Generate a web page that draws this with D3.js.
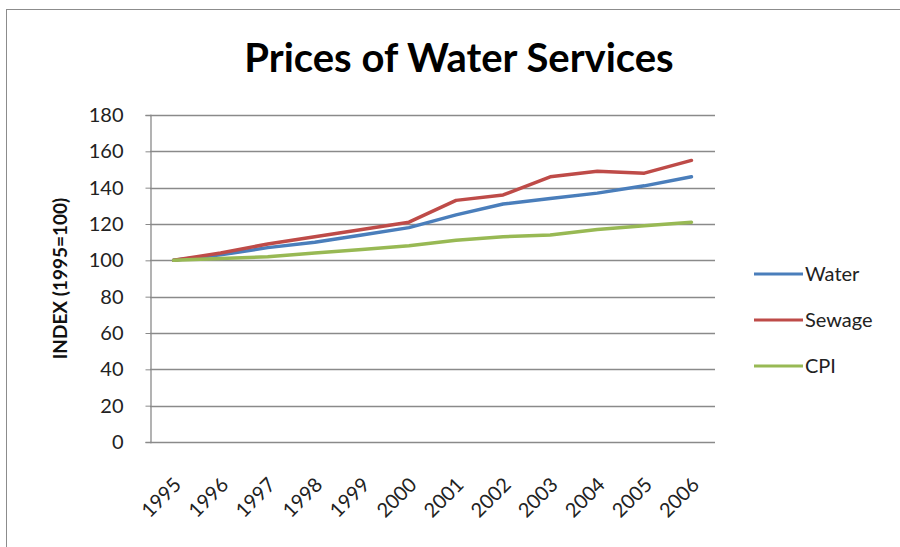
<!DOCTYPE html>
<html>
<head>
<meta charset="utf-8">
<script src="https://cdn.jsdelivr.net/npm/d3@7"></script>
<style>
  html, body { margin: 0; padding: 0; background: #fff; }
  svg { display: block; font-family: Lato, "Open Sans", sans-serif; }
</style>
</head>
<body>
<svg id="chart" width="900" height="547"></svg>
<script>
// Price indices (1995 = 100)
const years = ["1995","1996","1997","1998","1999","2000","2001","2002","2003","2004","2005","2006"];
const water  = [100, 103, 107, 110, 114, 118, 125, 131, 134, 137, 141, 146];
const sewage = [100, 104, 109, 113, 117, 121, 133, 136, 146, 149, 148, 155];
const cpi    = [100, 101, 102, 104, 106, 108, 111, 113, 114, 117, 119, 121];
const yTicks = [0, 20, 40, 60, 80, 100, 120, 140, 160, 180];

const seriesNames  = ["Water", "Sewage", "CPI"];
const seriesValues = [water, sewage, cpi];
const seriesColors = ["#4A7EBB", "#BE4B48", "#98B954"];

const svg = d3.select("#chart");

// outer chart frame
svg.append("rect")
  .attr("x", 6.5).attr("y", 9.5).attr("width", 900).attr("height", 560)
  .attr("fill", "#fff").attr("stroke", "#8c8c8c").attr("stroke-width", 1);

const plot = { left: 150, right: 715, top: 115, bottom: 442 };

const x = d3.scaleBand().domain(years).range([plot.left, plot.right]);
const y = d3.scaleLinear().domain([0, 180]).range([plot.bottom, plot.top]);

// horizontal gridlines
svg.append("g")
  .selectAll("line")
  .data(yTicks)
  .join("line")
  .attr("x1", plot.left).attr("x2", plot.right)
  .attr("y1", d => Math.round(y(d)) + 0.5).attr("y2", d => Math.round(y(d)) + 0.5)
  .attr("stroke", "#8a8a8a").attr("stroke-width", 1.3);

// y axis
const yAxis = svg.append("g")
  .attr("transform", `translate(${plot.left + 0.5},0)`)
  .call(d3.axisLeft(y).tickValues(yTicks).tickSize(5).tickPadding(22));
yAxis.select(".domain").attr("stroke", "#8a8a8a").attr("stroke-width", 1.3);
yAxis.selectAll(".tick line").attr("stroke", "#8a8a8a");
yAxis.selectAll(".tick text")
  .attr("font-size", 20).attr("fill", "#222")
  .attr("font-family", "Lato, 'Open Sans', sans-serif");

// x axis labels (rotated)
svg.append("g")
  .selectAll("text")
  .data(years)
  .join("text")
  .attr("transform", d => `translate(${x(d) + x.bandwidth() / 2 + 9},${plot.bottom + 44}) rotate(-45)`)
  .attr("text-anchor", "end")
  .attr("font-size", 20)
  .attr("fill", "#222")
  .text(d => d);

// y axis title
svg.append("text")
  .attr("transform", `translate(67,${(plot.top + plot.bottom) / 2}) rotate(-90)`)
  .attr("text-anchor", "middle")
  .attr("font-size", 19)
  .attr("font-weight", "bold")
  .attr("fill", "#111")
  .text("INDEX (1995=100)");

// chart title
svg.append("text")
  .attr("x", 459).attr("y", 72)
  .attr("text-anchor", "middle")
  .attr("font-size", 40)
  .attr("font-weight", "bold")
  .attr("fill", "#000")
  .text("Prices of Water Services");

// series lines
const line = d3.line()
  .x((d, i) => x(years[i]) + x.bandwidth() / 2)
  .y(d => y(d));

svg.append("g")
  .selectAll("path")
  .data(seriesValues)
  .join("path")
  .attr("d", d => line(d))
  .attr("fill", "none")
  .attr("stroke", (d, i) => seriesColors[i])
  .attr("stroke-width", 3.5)
  .attr("stroke-linejoin", "round")
  .attr("stroke-linecap", "round");

// legend
const legendY = d3.scalePoint().domain(seriesNames).range([274, 366]);
const legend = svg.append("g")
  .selectAll("g")
  .data(seriesNames)
  .join("g")
  .attr("transform", d => `translate(0,${legendY(d)})`);
legend.append("line")
  .attr("x1", 754).attr("x2", 803)
  .attr("stroke", (d, i) => seriesColors[i])
  .attr("stroke-width", 3);
legend.append("text")
  .attr("x", 805).attr("y", 7)
  .attr("font-size", 20)
  .attr("fill", "#222")
  .text(d => d);
</script>
</body>
</html>
